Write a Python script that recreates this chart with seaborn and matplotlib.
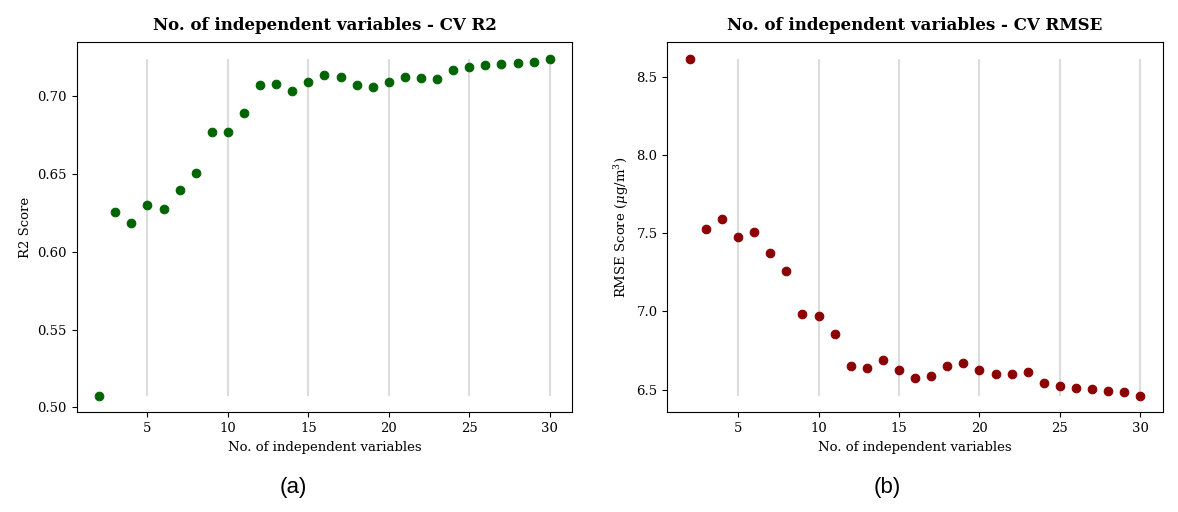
import numpy as np
import pandas as pd
import matplotlib
matplotlib.use("Agg")
import matplotlib.pyplot as plt
import seaborn as sns

# Number of independent variables used in each CV run
n_vars = list(range(2, 31))

# Cross-validated R2 score per number of variables
r2_scores = [0.5077, 0.6255, 0.6184, 0.6300, 0.6274, 0.6396, 0.6505, 0.6773,
             0.6773, 0.6891, 0.7071, 0.7079, 0.7032, 0.7094, 0.7135, 0.7122,
             0.7071, 0.7058, 0.7090, 0.7122, 0.7116, 0.7109, 0.7167, 0.7186,
             0.7201, 0.7206, 0.7214, 0.7220, 0.7238]

# Cross-validated RMSE (ug/m3) per number of variables
rmse_scores = [8.615, 7.526, 7.590, 7.474, 7.506, 7.372, 7.259, 6.983,
               6.974, 6.853, 6.650, 6.641, 6.692, 6.624, 6.577, 6.590,
               6.650, 6.667, 6.628, 6.598, 6.598, 6.611, 6.545, 6.521,
               6.509, 6.502, 6.491, 6.483, 6.462]

grid_x = [5, 10, 15, 20, 25, 30]

df = pd.DataFrame({"n_vars": n_vars, "r2": r2_scores, "rmse": rmse_scores})

plt.rcParams["font.family"] = ["DejaVu Serif"]
plt.rcParams["mathtext.fontset"] = "dejavuserif"
plt.rcParams["font.size"] = 9.5

fig = plt.figure(figsize=(11.78, 5.12), dpi=100)
ax1 = fig.add_axes([0.0651, 0.1947, 0.4207, 0.7223])
ax2 = fig.add_axes([0.5665, 0.1947, 0.4207, 0.7223])

panels = [
    (ax1, "r2", "darkgreen", "No. of independent variables - CV R2", "R2 Score"),
    (ax2, "rmse", "darkred", "No. of independent variables - CV RMSE",
     r"RMSE Score ($\mu$g/m$^3$)"),
]

for ax, col, color, title, ylabel in panels:
    # light vertical guides spanning the data range
    ax.vlines(grid_x, df[col].min(), df[col].max(), color="#dcdcdc",
              linewidth=1.5, zorder=0)
    sns.scatterplot(x="n_vars", y=col, data=df, color=color, edgecolor=color,
                    s=38, linewidth=0.8, ax=ax, zorder=3)
    ax.set_title(title, fontweight="bold", fontsize=12, pad=9)
    ax.set_xlabel("No. of independent variables")
    ax.set_ylabel(ylabel)
    ax.set_xticks(grid_x)

ax1.set_yticks([0.50, 0.55, 0.60, 0.65, 0.70])
ax2.set_yticks([6.5, 7.0, 7.5, 8.0, 8.5])

fig.text(293 / 1178, 1 - 487 / 512, "(a)", ha="center", va="center",
         fontsize=16, family=["Liberation Sans", "DejaVu Sans"])
fig.text(887 / 1178, 1 - 487 / 512, "(b)", ha="center", va="center",
         fontsize=16, family=["Liberation Sans", "DejaVu Sans"])

fig.savefig("out.png", dpi=100)
